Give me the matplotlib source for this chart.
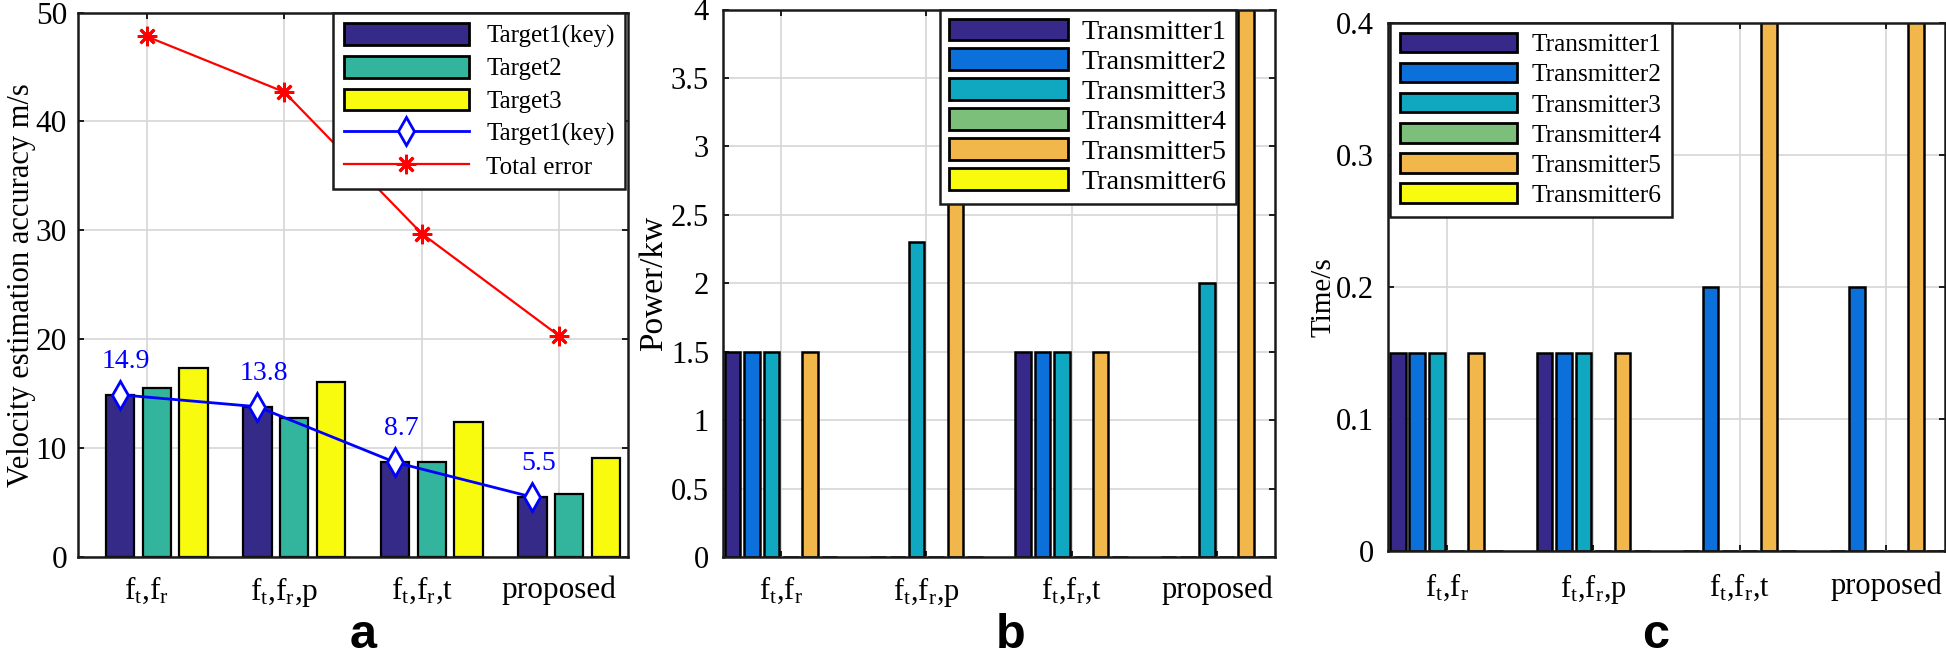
"""
Three-panel comparison: velocity accuracy, transmit power, dwell time
"""

import matplotlib
matplotlib.use("Agg")
import matplotlib.pyplot as plt
import numpy as np
from matplotlib.lines import Line2D
from matplotlib.patches import Patch

plt.rcParams["font.family"] = ["Liberation Serif", "DejaVu Serif"]
plt.rcParams["mathtext.fontset"] = "custom"
plt.rcParams["mathtext.rm"] = "Liberation Serif"
plt.rcParams["mathtext.it"] = "Liberation Serif:italic"

methods = [r"$\mathrm{f_t{,}f_r}$", r"$\mathrm{f_t{,}f_r{,}p}$", r"$\mathrm{f_t{,}f_r{,}t}$", "proposed"]

# (a) velocity estimation accuracy, m/s
target1 = [14.9, 13.8, 8.7, 5.5]
target2 = [15.5, 12.8, 8.7, 5.8]
target3 = [17.4, 16.1, 12.4, 9.1]
total_error = [47.8, 42.7, 29.7, 20.3]
target_names = ["Target1(key)", "Target2", "Target3"]

# (b) power per transmitter, kw
power_tx = [
    [1.5, 0, 1.5, 0],
    [1.5, 0, 1.5, 0],
    [1.5, 2.3, 1.5, 2.0],
    [0, 0, 0, 0],
    [1.5, 3.0, 1.5, 4.5],
    [0, 0, 0, 0],
]

# (c) time per transmitter, s
time_tx = [
    [0.15, 0.15, 0, 0],
    [0.15, 0.15, 0.2, 0.2],
    [0.15, 0.15, 0, 0],
    [0, 0, 0, 0],
    [0.15, 0.15, 0.45, 0.45],
    [0, 0, 0, 0],
]
tx_names = [f"Transmitter{i}" for i in range(1, 7)]

TARGET_COLORS = ["#352a87", "#33b59d", "#f9fb0e"]
TX_COLORS = ["#36298a", "#0c70db", "#0fa8c0", "#7bbf7b", "#f1b74b", "#f9fb0e"]

W, H = 1946, 659


def px_axes(fig, left, top, right, bottom):
    """Axes from pixel box (top-left origin)"""
    return fig.add_axes([left / W, 1 - bottom / H, (right - left) / W, (bottom - top) / H])


def style_axes(ax, fs, xpad, ypad):
    ax.grid(True, color="#d6d6d6", linewidth=1.2)
    ax.set_axisbelow(True)
    ax.tick_params(direction="in", length=4.5, width=1.4, top=True, right=True,
                   labelsize=fs, color="#1a1a1a")
    ax.tick_params(axis="x", pad=xpad)
    ax.tick_params(axis="y", pad=ypad)
    for s in ax.spines.values():
        s.set_linewidth(1.8)
        s.set_color("#1a1a1a")


def finish_legend(leg):
    leg.get_frame().set_edgecolor("#1a1a1a")
    leg.get_frame().set_linewidth(1.8)
    return leg


def tx_legend(ax, fs, spacing, pad, hlen, tpad, **kw):
    handles = [Patch(facecolor=c, edgecolor="black", linewidth=2.0) for c in TX_COLORS]
    leg = ax.legend(handles, tx_names, fontsize=fs, handlelength=hlen, handleheight=0.8,
                    labelspacing=spacing, handletextpad=tpad, borderpad=pad,
                    borderaxespad=0, fancybox=False, framealpha=1, **kw)
    return finish_legend(leg)


def tx_bars(ax, data):
    x = np.arange(1, len(methods) + 1)
    step = 0.8 / len(data)
    for k, vals in enumerate(data):
        ax.bar(x + (k - (len(data) - 1) / 2) * step, vals, width=step * 0.8,
               color=TX_COLORS[k], edgecolor="black", linewidth=1.8)
    ax.set_xticks(x)
    ax.set_xticklabels(methods)
    ax.set_xlim(0.6, 4.4)


fig = plt.figure(figsize=(W / 100, H / 100), dpi=100)

# Panel a
ax = px_axes(fig, 78, 12.5, 628, 557)
x = np.arange(1, len(methods) + 1)
offsets = [-0.195, 0.072, 0.34]
for k, vals in enumerate([target1, target2, target3]):
    ax.bar(x + offsets[k], vals, width=0.205, color=TARGET_COLORS[k],
           edgecolor="black", linewidth=1.6)
ax.plot(x + offsets[0], target1, color="blue", linewidth=2.0, marker="d",
        markersize=14, markerfacecolor="white", markeredgecolor="blue", markeredgewidth=2)
ax.plot(x, total_error, color="red", linewidth=1.6, marker=(8, 2, 0),
        markersize=14, markeredgecolor="red", markeredgewidth=2)
for xi, v in zip(x + offsets[0], target1):
    ax.annotate(f"{v}", (xi, v), xytext=(4.5, 15), textcoords="offset points",
                ha="center", va="bottom", color="blue", fontsize=20)
ax.set_xticks(x)
ax.set_xticklabels(methods)
ax.set_xlim(0.5, 4.5)
ax.set_ylim(0, 50)
ax.set_yticks(np.arange(0, 51, 10))
style_axes(ax, 22.5, 13, 8)
ax.set_ylabel("Velocity estimation accuracy m/s", fontsize=22)
ax.yaxis.set_label_coords(-0.076, 0.5)

handles = [Patch(facecolor=c, edgecolor="black", linewidth=2.0) for c in TARGET_COLORS]
handles.append(Line2D([], [], color="blue", linewidth=2.0, marker="d", markersize=14,
                      markerfacecolor="white", markeredgecolor="blue", markeredgewidth=2))
handles.append(Line2D([], [], color="red", linewidth=1.6, marker=(8, 2, 0), markersize=14,
                      markeredgecolor="red", markeredgewidth=2))
leg = ax.legend(handles, target_names + ["Target1(key)", "Total error"], fontsize=18,
                loc="upper right", bbox_to_anchor=(0.995, 1.0), numpoints=1,
                handlelength=5.0, handleheight=0.95, labelspacing=0.33, handletextpad=0.7,
                borderpad=0.42, borderaxespad=0, fancybox=False, framealpha=1)
finish_legend(leg)

# Panel b
ax = px_axes(fig, 723, 9.5, 1275, 557)
tx_bars(ax, power_tx)
ax.set_ylim(0, 4)
ax.set_yticks(np.arange(0, 4.01, 0.5))
ax.set_yticklabels(["0", "0.5", "1", "1.5", "2", "2.5", "3", "3.5", "4"])
style_axes(ax, 22, 13, 10)
ax.set_ylabel("Power/kw", fontsize=24)
ax.yaxis.set_label_coords(-0.097, 0.5)
tx_legend(ax, 20.3, 0.12, 0.32, 4.2, 0.5, loc="upper right", bbox_to_anchor=(0.929, 1.0))

# Panel c
ax = px_axes(fig, 1388, 23, 1945, 551)
tx_bars(ax, time_tx)
ax.set_ylim(0, 0.4)
ax.set_yticks(np.arange(0, 0.41, 0.1))
ax.set_yticklabels(["0", "0.1", "0.2", "0.3", "0.4"])
style_axes(ax, 22, 15, 10)
ax.set_ylabel("Time/s", fontsize=21)
ax.yaxis.set_label_coords(-0.093, 0.48)
tx_legend(ax, 18.3, 0.26, 0.38, 4.6, 0.6, loc="upper left", bbox_to_anchor=(0.004, 1.0))

for label, cx in zip(["a", "b", "c"], [363, 1011, 1656]):
    fig.text(cx / W, 0.5 / H, label, ha="center", va="bottom", fontsize=35,
             fontweight="bold", family="Liberation Sans")

fig.savefig("out.png", dpi=100)
